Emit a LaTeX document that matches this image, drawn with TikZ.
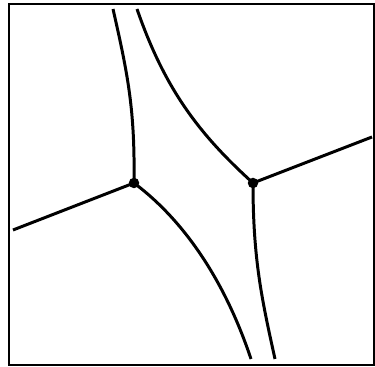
\documentclass[tikz,border=0pt]{standalone}
\begin{document}
\begin{tikzpicture}[x=0.02cm,y=-0.02cm,
  frame/.style={line width=0.9pt},
  edge/.style={line width=1.7pt},
  junction/.style={circle,fill=black,inner sep=0pt,minimum size=0.21cm}]
  \useasboundingbox (0,0) rectangle (375,367);
  \draw[frame] (9,4) rectangle (374,365);

  \node[junction] (p) at (134,183) {};
  \node[junction] (q) at (253,183) {};

  \coordinate (topa) at (113,9);
  \coordinate (topb) at (137,9);
  \coordinate (left) at (13,230);
  \coordinate (right) at (372,137);
  \coordinate (bota) at (251,359);
  \coordinate (botb) at (275,359);

  \draw[edge] (topa) .. controls (128,75) and (135,110) .. (p.center);
  \draw[edge] (p.center) -- (left);
  \draw[edge] (p.center) .. controls (190,225) and (228,290) .. (bota);

  \draw[edge] (topb) .. controls (165,90) and (200,135) .. (q.center);
  \draw[edge] (q.center) -- (right);
  \draw[edge] (q.center) .. controls (253,260) and (262,300) .. (botb);
\end{tikzpicture}
\end{document}
